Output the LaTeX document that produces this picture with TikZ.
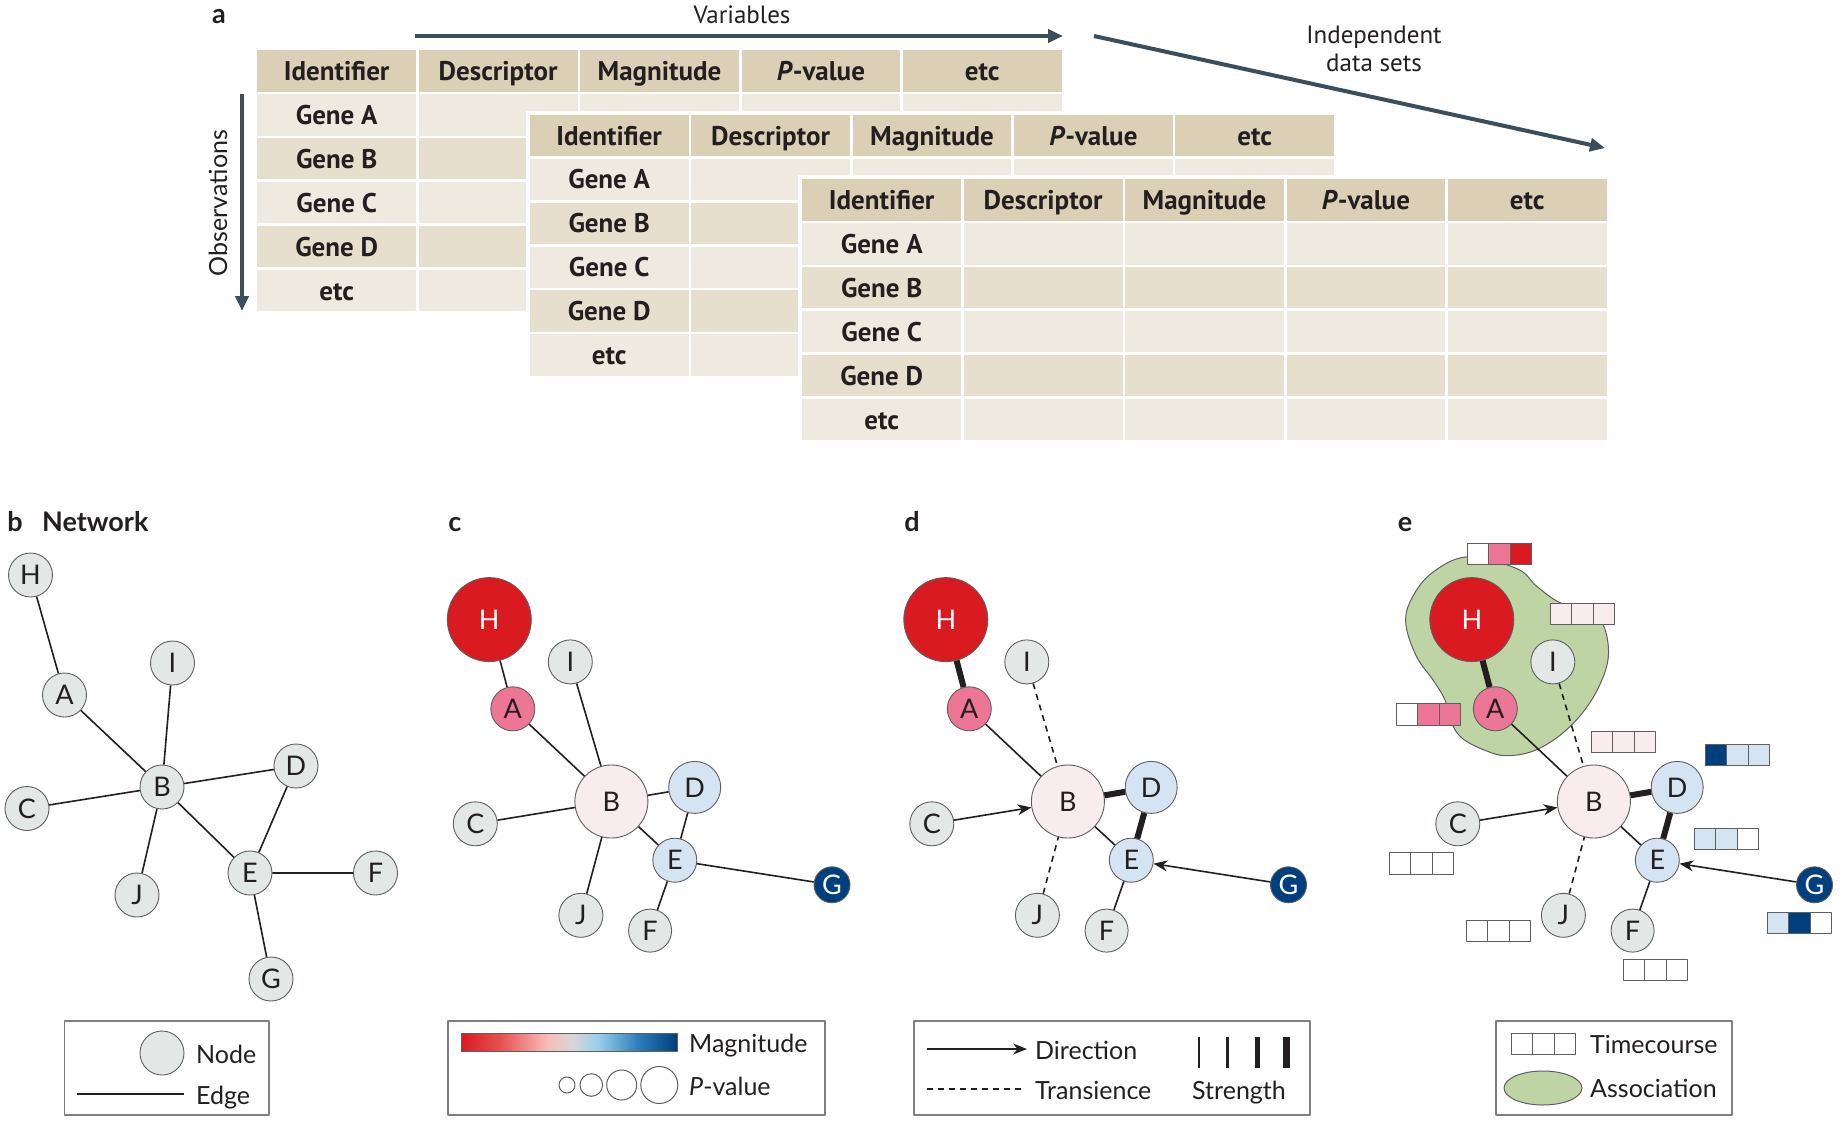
\documentclass[tikz,border=0pt]{standalone}
\usepackage{fontspec}
\setmainfont{Lato}
\newfontfamily\tabfont{PT Sans}
\usetikzlibrary{arrows.meta}
\definecolor{ink}{RGB}{35,31,32}
\definecolor{hdr}{RGB}{219,208,182}
\definecolor{rowlt}{RGB}{239,234,224}
\definecolor{rowdk}{RGB}{231,223,205}
\definecolor{slate}{RGB}{60,78,92}
\definecolor{nodegray}{RGB}{227,232,231}
\definecolor{rim}{RGB}{95,95,95}
\definecolor{hred}{RGB}{217,26,33}
\definecolor{apink}{RGB}{237,118,151}
\definecolor{bpink}{RGB}{249,236,238}
\definecolor{lblue}{RGB}{213,228,243}
\definecolor{gblue}{RGB}{0,63,125}
\definecolor{assoc}{RGB}{190,212,165}
\definecolor{magA}{RGB}{230,80,82}
\definecolor{magB}{RGB}{246,190,184}
\definecolor{magC}{RGB}{214,214,216}
\definecolor{magD}{RGB}{150,205,236}
\definecolor{magE}{RGB}{45,125,185}
% the bar is mapped onto 25bp--75bp of the shading
\pgfdeclarehorizontalshading{magbar}{100bp}{color(0bp)=(hred); color(25bp)=(hred); color(34bp)=(magA); color(45bp)=(magB); color(51bp)=(magC); color(57bp)=(magD); color(66bp)=(magE); color(75bp)=(gblue); color(100bp)=(gblue)}
% three-cell timecourse box, top left corner at #1
\newcommand\tcourse[4]{\begin{scope}[shift={(#1)}]
  \foreach \fc [count=\j from 0] in {#2,#3,#4}
    \filldraw[tcell, fill=\fc] (21.6*\j,0) rectangle +(21.6,21.5);
  \end{scope}}

\begin{document}
\begin{tikzpicture}[x=1pt, y=-1pt, line join=round, >={Stealth[length=14pt,width=11pt]},
  lbl/.style={font=\bfseries\fontsize{27}{27}\selectfont, text=ink, inner sep=0, anchor=base},
  cell/.style={font=\tabfont\bfseries\fontsize{27}{27}\selectfont, text=ink, inner sep=0, text height=19pt, text depth=0pt},
  axislbl/.style={font=\tabfont\fontsize{25}{28}\selectfont, text=ink, inner sep=0, align=center},
  bigarrow/.style={draw=slate, line width=4pt, -{Triangle[length=15pt,width=13pt]}},
  vertex/.style={circle, draw=rim, line width=0.9pt, fill=nodegray, minimum size=44pt, inner sep=0, text=ink, font=\fontsize{27}{27}\selectfont},
  link/.style={draw=ink, line width=1.6pt},
  strong/.style={draw=ink, line width=6pt},
  transient/.style={dash pattern=on 6pt off 5pt},
  keybox/.style={draw=rim!80, line width=1.2pt},
  keytext/.style={font=\fontsize{25}{25}\selectfont, text=ink, anchor=west, inner sep=0, text height=18pt, text depth=0pt},
  tcell/.style={draw=rim, line width=1pt},
  blob/.style={draw=rim, line width=1pt, fill=assoc}]
\path[use as bounding box, fill=white] (0,0) rectangle (1840,1122);

% a: stacked data tables
\foreach \tx/\ty [count=\k] in {256/49, 528.5/113.5, 801/178} {
  \fill[white] (\tx-3,\ty-3) rectangle +(813,269.5);
  \foreach \row/\rc in {0/hdr,1/rowlt,2/rowdk,3/rowlt,4/rowdk,5/rowlt}
    \foreach \col in {0,...,4}
      \fill[\rc] (\tx+161.4*\col+1.3,\ty+43.9*\row+1.3) rectangle +(158.8,41.3);
  \foreach \txt [count=\col from 0] in {Identifier,Descriptor,Magnitude,{\textit{P}-value},etc}
    \node[cell] (t\k h\col) at (\tx+161.4*\col+80.7,\ty+22) {\txt};
  \foreach \txt [count=\row] in {Gene A,Gene B,Gene C,Gene D,etc}
    \node[cell] (t\k g\row) at (\tx+80.7,\ty+43.9*\row+22) {\txt};
}
\node[lbl] (la) at (219,23.5) {a};
\node[axislbl] (vars) at (742,15) {Variables};
\node[axislbl] (sets) at (1374,49) {Independent\\data sets};
\node[axislbl, font=\fontsize{25}{25}\selectfont, rotate=90] (obs) at (218,203) {Observations};
\coordinate (varsL) at (415,36);
\coordinate (varsR) at (1063,36);
\coordinate (setsL) at (1094,36);
\coordinate (setsR) at (1605,148);
\coordinate (obsT) at (242,94);
\coordinate (obsB) at (242,311);
\draw[bigarrow] (varsL) -- (varsR);
\draw[bigarrow] (setsL) -- (setsR);
\draw[bigarrow] (obsT) -- (obsB);

% panel labels
\node[lbl] (lb) at (15,531.5) {b};
\node[lbl, anchor=base west] (net) at (42,531.5) {Network};
\node[lbl] (lc) at (455,531.5) {c};
\node[lbl] (ld) at (912,531.5) {d};
\node[lbl] (le) at (1405,531.5) {e};

% b: plain network
\foreach \n/\x/\y in {H/30.5/575, A/64.5/695, I/172.5/663, D/296/766, B/162/787,
                      C/27/808.5, E/250/873, F/375.5/873, J/137/895, G/271/979}
  \node[vertex] (b\n) at (\x,\y) {\n};
\draw[link] (bH)--(bA) (bA)--(bB) (bI)--(bB) (bC)--(bB) (bB)--(bD)
  (bB)--(bE) (bD)--(bE) (bE)--(bF) (bE)--(bG) (bJ)--(bB);

% e: association
\draw[blob] plot[smooth cycle, tension=0.6] coordinates {(1466.7,556.9) (1430,574.5)
  (1410,602) (1406,625.5) (1416.7,656.9) (1433.3,680.4) (1445,700) (1451.7,723.5)
  (1463.3,739.2) (1486.7,751) (1506.7,755.7) (1533.3,751) (1560,735.3) (1583.3,711.8)
  (1600,684.3) (1608.3,656.9) (1605,629.4) (1593.3,613.7) (1560,602.7) (1536.7,586.3)
  (1516.7,568.6)};

% c, d, e: weighted networks
\foreach \p/\dx in {c/0, d/456.5, e/982.5} {
  \node[vertex, fill=hred, text=white, minimum size=84pt] (\p H) at (\dx+489.3,619.6) {H};
  \node[vertex, fill=apink] (\p A) at (\dx+512.8,708.8) {A};
  \node[vertex] (\p I) at (\dx+570.3,661.9) {I};
  \node[vertex, fill=bpink, minimum size=73pt] (\p B) at (\dx+611.4,801.5) {B};
  \node[vertex, fill=lblue, minimum size=52pt] (\p D) at (\dx+694.7,787.4) {D};
  \node[vertex] (\p C) at (\dx+475.3,823.8) {C};
  \node[vertex, fill=lblue] (\p E) at (\dx+674.8,860.2) {E};
  \node[vertex, fill=gblue, text=white, minimum size=36pt] (\p G) at (\dx+832,884.8) {G};
  \node[vertex] (\p J) at (\dx+580.9,915.3) {J};
  \node[vertex, minimum size=43pt] (\p F) at (\dx+650.1,930.6) {F};
}
\draw[link] (cH)--(cA) (cA)--(cB) (cI)--(cB) (cC)--(cB) (cB)--(cD)
  (cB)--(cE) (cD)--(cE) (cE)--(cF) (cE)--(cG) (cJ)--(cB);
\foreach \p in {d,e} {
  \draw[strong] (\p H)--(\p A) (\p B)--(\p D) (\p D)--(\p E);
  \draw[link] (\p A)--(\p B) (\p B)--(\p E) (\p E)--(\p F);
  \draw[link, transient] (\p I)--(\p B) (\p J)--(\p B);
  \draw[link, ->] (\p C)--(\p B);
  \draw[link, ->] (\p G)--(\p E);
}

% e: timecourses
\tcourse{1467,543}{white}{apink}{hred}
\tcourse{1550,603}{bpink}{bpink}{bpink}
\tcourse{1396,703.5}{white}{apink}{apink}
\tcourse{1591,731}{bpink}{bpink}{bpink}
\tcourse{1705,744}{gblue}{lblue}{lblue}
\tcourse{1694,828}{lblue}{lblue}{white}
\tcourse{1389,852.5}{white}{white}{white}
\tcourse{1767,912}{lblue}{gblue}{white}
\tcourse{1466,920}{white}{white}{white}
\tcourse{1623,959}{white}{white}{white}

% legends
\draw[keybox] (64.5,1021) rectangle (269,1115);
\node[vertex] (keynode) at (162,1053) {};
\node[keytext] (knode) at (196,1054) {Node};
\coordinate (edgeL) at (77,1094);
\coordinate (edgeR) at (184,1094);
\draw[link] (edgeL) -- (edgeR);
\node[keytext] (kedge) at (196,1095) {Edge};

\draw[keybox] (448,1021) rectangle (825,1115);
\shadedraw[shading=magbar, draw=rim, line width=0.8pt] (461,1033) rectangle (677,1051.5);
\node[keytext] (kmag) at (689,1043) {Magnitude};
\foreach \cx/\cr in {567/8, 591.3/11.3, 621.7/15, 659.3/18.5}
  \draw[rim, line width=1pt] (\cx,1085) circle (\cr);
\node[keytext] (kpval) at (689,1086) {\textit{P}-value};

\draw[keybox] (914,1021) rectangle (1310,1115);
\coordinate (dirL) at (927,1049);
\coordinate (dirR) at (1027,1049);
\draw[link, ->] (dirL) -- (dirR);
\node[keytext] (kdir) at (1035,1050) {Direction};
\coordinate (trL) at (927,1089);
\coordinate (trR) at (1023,1089);
\draw[link, transient] (trL) -- (trR);
\node[keytext] (ktr) at (1035,1090) {Transience};
\foreach \sx/\sw in {1199/1.3, 1227.5/3.3, 1257/5, 1286/7}
  \draw[ink, line width=\sw pt] (\sx,1037) -- (\sx,1068);
\node[keytext] (kstr) at (1192,1090) {Strength};

\draw[keybox] (1496,1021) rectangle (1732,1115);
\tcourse{1511,1033}{white}{white}{white}
\node[keytext] (ktc) at (1590,1044) {Timecourse};
\draw[blob] (1543,1088) ellipse (39 and 17);
\node[keytext] (kas) at (1590,1088) {Association};
\end{tikzpicture}
\end{document}
